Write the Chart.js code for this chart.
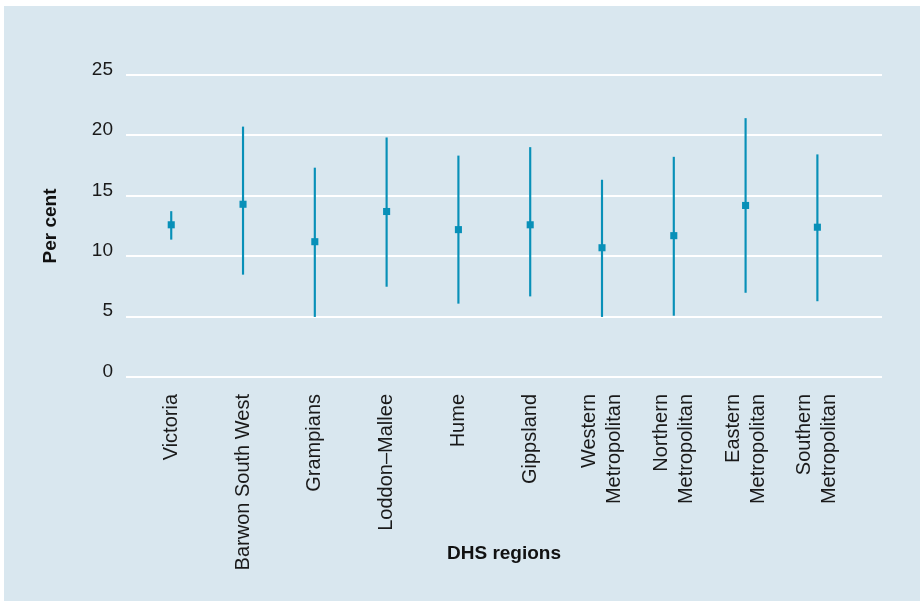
<!DOCTYPE html>
<html>
<head>
<meta charset="utf-8">
<script src="https://cdn.jsdelivr.net/npm/chart.js@4"></script>
<style>
  html, body { margin: 0; padding: 0; background: #ffffff; }
  canvas { display: block; }
</style>
</head>
<body>
<canvas id="c" width="920" height="601"></canvas>
<script>
// ---- Data ----
const regions = [
  'Victoria', 'Barwon South West', 'Grampians', 'Loddon\u2013Mallee', 'Hume',
  'Gippsland', ['Western', 'Metropolitan'], ['Northern', 'Metropolitan'],
  ['Eastern', 'Metropolitan'], ['Southern', 'Metropolitan']
];
const estimates = [12.6, 14.3, 11.2, 13.7, 12.2, 12.6, 10.7, 11.7, 14.2, 12.4];
const lowerCI   = [11.4,  8.5,  5.0,  7.5,  6.1,  6.7,  5.0,  5.1,  7.0,  6.3];
const upperCI   = [13.7, 20.7, 17.3, 19.8, 18.3, 19.0, 16.3, 18.2, 21.4, 18.4];
const yTicks    = [0, 5, 10, 15, 20, 25];

const MARK = '#0890B8';
const FONT = 'Liberation Sans, Arial, sans-serif';
const LABEL_LH = 1.25;
const LABEL_SIZE = 20;

const bgPlugin = {
  id: 'bg',
  beforeDraw(chart) {
    const ctx = chart.ctx;
    ctx.save();
    ctx.fillStyle = '#ffffff';
    ctx.fillRect(0, 0, chart.width, chart.height);
    ctx.fillStyle = '#D9E7EF';
    ctx.fillRect(4, 6, chart.width - 4, chart.height - 6);
    ctx.restore();
  }
};

// centre multi-line rotated labels on their tick
const centerMultiLine = {
  id: 'centerMultiLine',
  beforeDraw(chart) {
    const sc = chart.scales.x;
    const items = sc.getLabelItems(chart.chartArea);
    if (items._centered) return;
    const lh = LABEL_SIZE * LABEL_LH;
    items.forEach(it => {
      if (Array.isArray(it.label) && it.label.length > 1) {
        it.options.translation[0] -= (it.label.length - 1) * lh / 2;
      }
    });
    items._centered = true;
  }
};

new Chart(document.getElementById('c'), {
  type: 'bar',
  data: {
    datasets: [
      {
        type: 'scatter',
        order: 0,
        data: estimates.map((v, i) => ({ x: i, y: v })),
        pointStyle: 'rect',
        pointRadius: 5,
        pointHoverRadius: 5,
        pointBorderWidth: 0,
        backgroundColor: MARK,
        borderColor: MARK
      },
      {
        type: 'bar',
        order: 1,
        data: lowerCI.map((lo, i) => ({ x: i, y: [lo, upperCI[i]] })),
        backgroundColor: MARK,
        borderWidth: 0,
        barThickness: 1.5,
        grouped: false
      }
    ]
  },
  options: {
    responsive: false,
    animation: false,
    layout: { padding: { top: 75, right: 38, bottom: 0, left: 0 } },
    plugins: {
      legend: { display: false },
      tooltip: { enabled: false }
    },
    scales: {
      x: {
        type: 'linear',
        offset: false,
        min: -0.63,
        max: 9.9,
        grid: { display: false, drawTicks: false, offset: false },
        border: { display: false },
        afterBuildTicks: (scale) => { scale.ticks = regions.map((_, i) => ({ value: i })); },
        afterFit: (scale) => { scale.height = 224; },
        ticks: {
          autoSkip: false,
          minRotation: 90,
          maxRotation: 90,
          padding: 17,
          color: '#1a1a1a',
          font: { family: FONT, size: LABEL_SIZE, lineHeight: LABEL_LH },
          callback: (value) => regions[value]
        },
        title: {
          display: true,
          text: 'DHS regions',
          color: '#111111',
          font: { family: FONT, size: 19, weight: 'bold' },
          padding: { top: 0, bottom: 36 }
        }
      },
      y: {
        min: 0,
        max: 25,
        afterBuildTicks: (scale) => { scale.ticks = yTicks.map(v => ({ value: v })); },
        afterFit: (scale) => { scale.width = 126; },
        grid: { color: '#ffffff', lineWidth: 2, drawTicks: false },
        border: { display: false },
        ticks: {
          padding: 13,
          labelOffset: -5.5,
          color: '#1a1a1a',
          font: { family: FONT, size: 19 }
        },
        title: {
          display: true,
          text: 'Per cent',
          color: '#111111',
          font: { family: FONT, size: 19, weight: 'bold' },
          padding: { top: 39, bottom: 0 }
        }
      }
    }
  },
  plugins: [bgPlugin, centerMultiLine]
});
</script>
</body>
</html>
